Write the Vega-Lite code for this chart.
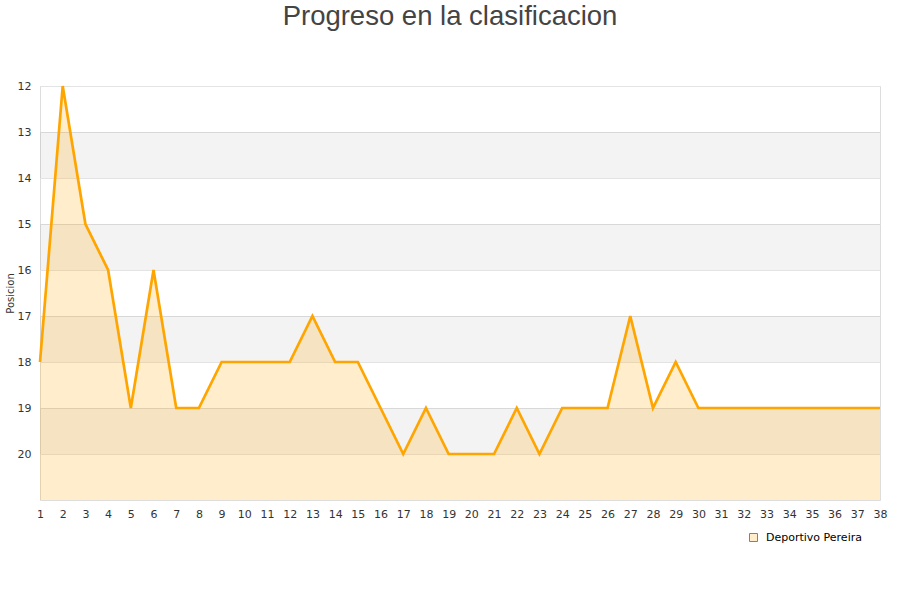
{
  "$schema": "https://vega.github.io/schema/vega-lite/v6.json",
  "width": 840,
  "height": 414,
  "autosize": {"type": "none"},
  "padding": {"left": 40, "top": 86, "right": 20, "bottom": 100},
  "background": "white",
  "title": {
    "text": "Progreso en la clasificacion",
    "font": "Liberation Sans",
    "fontSize": 27.5,
    "fontWeight": "normal",
    "color": "#444444",
    "anchor": "middle",
    "dx": -10,
    "offset": 50
  },
  "config": {
    "view": {"stroke": "#dddddd", "strokeWidth": 1},
    "axis": {
      "labelFont": "DejaVu Sans",
      "labelFontSize": 11,
      "labelColor": "#333333",
      "titleFont": "DejaVu Sans",
      "titleFontWeight": "normal",
      "titleColor": "#333333",
      "ticks": false,
      "domain": false
    }
  },
  "datasets": {
    "clasificacion": [
      {"jornada": 1, "posicion": 18, "equipo": "Deportivo Pereira"},
      {"jornada": 2, "posicion": 12, "equipo": "Deportivo Pereira"},
      {"jornada": 3, "posicion": 15, "equipo": "Deportivo Pereira"},
      {"jornada": 4, "posicion": 16, "equipo": "Deportivo Pereira"},
      {"jornada": 5, "posicion": 19, "equipo": "Deportivo Pereira"},
      {"jornada": 6, "posicion": 16, "equipo": "Deportivo Pereira"},
      {"jornada": 7, "posicion": 19, "equipo": "Deportivo Pereira"},
      {"jornada": 8, "posicion": 19, "equipo": "Deportivo Pereira"},
      {"jornada": 9, "posicion": 18, "equipo": "Deportivo Pereira"},
      {"jornada": 10, "posicion": 18, "equipo": "Deportivo Pereira"},
      {"jornada": 11, "posicion": 18, "equipo": "Deportivo Pereira"},
      {"jornada": 12, "posicion": 18, "equipo": "Deportivo Pereira"},
      {"jornada": 13, "posicion": 17, "equipo": "Deportivo Pereira"},
      {"jornada": 14, "posicion": 18, "equipo": "Deportivo Pereira"},
      {"jornada": 15, "posicion": 18, "equipo": "Deportivo Pereira"},
      {"jornada": 16, "posicion": 19, "equipo": "Deportivo Pereira"},
      {"jornada": 17, "posicion": 20, "equipo": "Deportivo Pereira"},
      {"jornada": 18, "posicion": 19, "equipo": "Deportivo Pereira"},
      {"jornada": 19, "posicion": 20, "equipo": "Deportivo Pereira"},
      {"jornada": 20, "posicion": 20, "equipo": "Deportivo Pereira"},
      {"jornada": 21, "posicion": 20, "equipo": "Deportivo Pereira"},
      {"jornada": 22, "posicion": 19, "equipo": "Deportivo Pereira"},
      {"jornada": 23, "posicion": 20, "equipo": "Deportivo Pereira"},
      {"jornada": 24, "posicion": 19, "equipo": "Deportivo Pereira"},
      {"jornada": 25, "posicion": 19, "equipo": "Deportivo Pereira"},
      {"jornada": 26, "posicion": 19, "equipo": "Deportivo Pereira"},
      {"jornada": 27, "posicion": 17, "equipo": "Deportivo Pereira"},
      {"jornada": 28, "posicion": 19, "equipo": "Deportivo Pereira"},
      {"jornada": 29, "posicion": 18, "equipo": "Deportivo Pereira"},
      {"jornada": 30, "posicion": 19, "equipo": "Deportivo Pereira"},
      {"jornada": 31, "posicion": 19, "equipo": "Deportivo Pereira"},
      {"jornada": 32, "posicion": 19, "equipo": "Deportivo Pereira"},
      {"jornada": 33, "posicion": 19, "equipo": "Deportivo Pereira"},
      {"jornada": 34, "posicion": 19, "equipo": "Deportivo Pereira"},
      {"jornada": 35, "posicion": 19, "equipo": "Deportivo Pereira"},
      {"jornada": 36, "posicion": 19, "equipo": "Deportivo Pereira"},
      {"jornada": 37, "posicion": 19, "equipo": "Deportivo Pereira"},
      {"jornada": 38, "posicion": 19, "equipo": "Deportivo Pereira"}
    ],
    "bandas": [
      {"desde": 13, "hasta": 14},
      {"desde": 15, "hasta": 16},
      {"desde": 17, "hasta": 18},
      {"desde": 19, "hasta": 20}
    ]
  },
  "layer": [
    {
      "data": {"name": "bandas"},
      "mark": {"type": "rect", "fill": "#000000", "opacity": 0.047},
      "encoding": {
        "y": {"field": "desde", "type": "quantitative", "scale": {"domain": [12, 21], "reverse": true, "nice": false, "zero": false}},
        "y2": {"field": "hasta"}
      }
    },
    {
      "data": {"name": "clasificacion"},
      "mark": {"type": "area"},
      "encoding": {
        "x": {
          "field": "jornada",
          "type": "ordinal",
          "scale": {"type": "point", "padding": 0},
          "axis": {
            "title": null,
            "grid": false,
            "labelAngle": 0,
            "labelPadding": 8,
            "labelOverlap": false
          }
        },
        "y": {
          "field": "posicion",
          "type": "quantitative",
          "scale": {"domain": [12, 21], "reverse": true, "nice": false, "zero": false},
          "axis": {
            "values": [12, 13, 14, 15, 16, 17, 18, 19, 20],
            "title": "Posicion",
            "titleFontSize": 10,
            "titlePadding": 2,
            "labelPadding": 9,
            "grid": true,
            "gridColor": "#e3e3e3",
            "labelFlush": false,
            "labelOverlap": false
          }
        },
        "y2": {"datum": 21},
        "color": {
          "field": "equipo",
          "type": "nominal",
          "scale": {"range": ["rgba(255,165,0,0.2)"]},
          "legend": {
            "title": null,
            "orient": "none",
            "legendX": 708,
            "legendY": 446,
            "symbolType": "square",
            "symbolSize": 64,
            "symbolStrokeColor": "#8a8070",
            "symbolStrokeWidth": 1,
            "labelOffset": 7,
            "labelFont": "DejaVu Sans",
            "labelFontSize": 11,
            "labelColor": "#000000"
          }
        }
      }
    },
    {
      "data": {"name": "clasificacion"},
      "mark": {"type": "line", "strokeWidth": 2.7, "color": "#ffa500"},
      "encoding": {
        "x": {"field": "jornada", "type": "ordinal"},
        "y": {"field": "posicion", "type": "quantitative"}
      }
    }
  ]
}
